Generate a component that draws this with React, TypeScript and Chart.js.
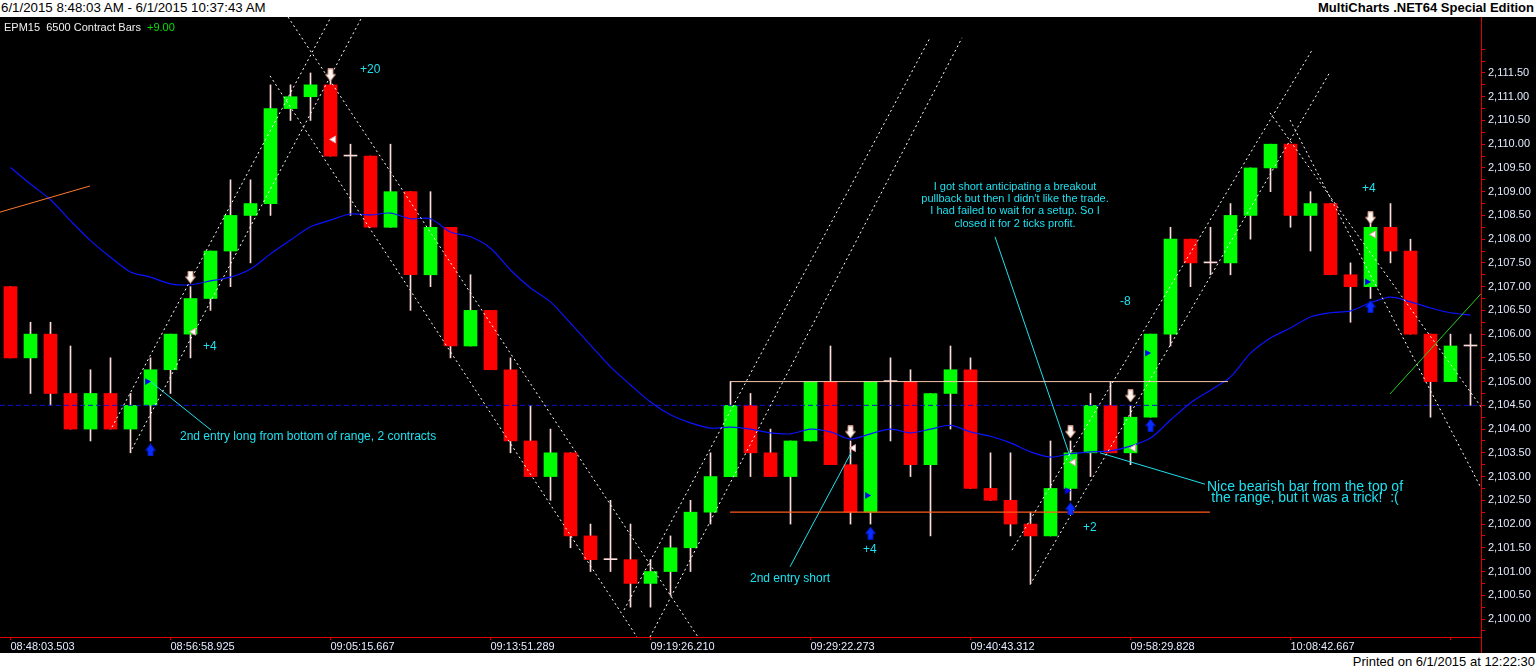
import React, { useEffect, useRef } from "react";
import { Chart, registerables } from "chart.js";
Chart.register(...registerables);

// ---- data (bar index 0..73, prices) ----
const barOpen = [2107, 2105.5, 2106, 2104.75, 2104, 2104.75, 2104, 2104.5, 2105.25, 2106, 2106.75, 2107.75, 2108.5, 2108.75, 2110.75, 2111, 2111.25, 2109.75, 2109.75, 2108.25, 2109, 2107.25, 2108.25, 2105.75, 2106.5, 2105.25, 2103.75, 2103, 2103.5, 2101.75, 2101.25, 2101.25, 2100.75, 2101, 2101.5, 2102.25, 2103, 2104.5, 2103.5, 2103, 2103.75, 2105, 2103.25, 2102.25, 2105, 2105, 2103.25, 2104.75, 2105.25, 2102.75, 2102.5, 2102, 2101.75, 2102.75, 2103.5, 2104.5, 2103.5, 2104.25, 2106, 2108, 2107.5, 2107.5, 2108.5, 2109.5, 2110, 2108.5, 2108.75, 2107.25, 2107, 2108.25, 2107.75, 2106, 2105, 2105.75];
const barHigh = [2107, 2106.25, 2106.25, 2105.75, 2105.25, 2105.5, 2104.75, 2105.5, 2106, 2107, 2107.75, 2109.25, 2109.25, 2111.25, 2111.25, 2111.5, 2111.5, 2110, 2109.75, 2110, 2109, 2109, 2108.25, 2107.25, 2106.5, 2105.5, 2104.5, 2104, 2103.5, 2102, 2102.5, 2102, 2101.25, 2101.75, 2102.5, 2103.5, 2105, 2104.75, 2104, 2103.75, 2105, 2105.75, 2103.75, 2105, 2105.5, 2105.25, 2104.75, 2105.75, 2105.5, 2103.5, 2103.5, 2102.25, 2103.75, 2103.75, 2104.75, 2105, 2104.5, 2106, 2108.25, 2108, 2108.25, 2108.75, 2109.5, 2110, 2110, 2109, 2108.75, 2107.5, 2108.5, 2108.75, 2108, 2106, 2106, 2106];
const barLow = [2105.5, 2104.75, 2104.5, 2104, 2103.75, 2104, 2103.5, 2103.75, 2104.75, 2105.5, 2106.5, 2107, 2107.5, 2108.5, 2110.5, 2110.5, 2109.75, 2108.5, 2108.25, 2108.25, 2106.5, 2107, 2105.5, 2105.75, 2105.25, 2103.5, 2103, 2102.5, 2101.5, 2101, 2101, 2100.25, 2100.25, 2100.5, 2101, 2102, 2103, 2103, 2103, 2102, 2103.75, 2103.25, 2102, 2102, 2103.75, 2103, 2101.75, 2104, 2102.75, 2102.5, 2101.75, 2100.75, 2101.75, 2102.5, 2103, 2103.5, 2103.25, 2104.25, 2105.75, 2107, 2107.25, 2107.25, 2108, 2109, 2108.25, 2107.75, 2107.25, 2106.25, 2106.75, 2107.5, 2106, 2104.25, 2105, 2104.5];
const barClose = [2105.5, 2106, 2104.75, 2104, 2104.75, 2104, 2104.5, 2105.25, 2106, 2106.75, 2107.75, 2108.5, 2108.75, 2110.75, 2111, 2111.25, 2109.75, 2109.75, 2108.25, 2109, 2107.25, 2108.25, 2105.75, 2106.5, 2105.25, 2103.75, 2103, 2103.5, 2101.75, 2101.25, 2101.25, 2100.75, 2101, 2101.5, 2102.25, 2103, 2104.5, 2103.5, 2103, 2103.75, 2105, 2103.25, 2102.25, 2105, 2105, 2103.25, 2104.75, 2105.25, 2102.75, 2102.5, 2102, 2101.75, 2102.75, 2103.5, 2104.5, 2103.5, 2104.25, 2106, 2108, 2107.5, 2107.5, 2108.5, 2109.5, 2110, 2108.5, 2108.75, 2107.25, 2107, 2108.25, 2107.75, 2106, 2105, 2105.75, 2105.75];
const movingAverage = [2109.51, 2109.16, 2108.83, 2108.39, 2107.97, 2107.62, 2107.31, 2107.2, 2107.06, 2107.04, 2107.12, 2107.2, 2107.37, 2107.69, 2107.98, 2108.26, 2108.4, 2108.53, 2108.51, 2108.55, 2108.43, 2108.43, 2108.15, 2108.05, 2107.81, 2107.35, 2106.97, 2106.68, 2106.23, 2105.77, 2105.31, 2104.93, 2104.57, 2104.3, 2104.13, 2104.02, 2104.04, 2104.0, 2103.92, 2103.9, 2104.0, 2103.94, 2103.79, 2103.9, 2104.0, 2103.92, 2104.0, 2104.08, 2103.94, 2103.85, 2103.71, 2103.52, 2103.41, 2103.48, 2103.52, 2103.54, 2103.64, 2103.81, 2104.19, 2104.55, 2104.82, 2105.1, 2105.6, 2105.92, 2106.13, 2106.36, 2106.45, 2106.49, 2106.66, 2106.78, 2106.68, 2106.55, 2106.45, 2106.4];
const timeTickLabels = ["08:48:03.503", "08:56:58.925", "09:05:15.667", "09:13:51.289", "09:19:26.210", "09:29:22.273", "09:40:43.312", "09:58:29.828", "10:08:42.667", ""];
const TICK_EVERY = 8;
const priceTickStart = 2099.75;
const priceTickEnd = 2112.0;
const priceLabelTop = 2111.5;

// segments: [barIndex1, price1, barIndex2, price2]
const trendLines = [
  [5.075, 2104.04, 16.025, 2112.68],
  [6.075, 2103.58, 17.575, 2112.68],
  [13.875, 2112.68, 34.375, 2099.62],
  [12.975, 2111.44, 31.325, 2099.62],
  [30.675, 2100.19, 45.975, 2112.24],
  [31.975, 2099.62, 47.575, 2112.24],
  [50.075, 2101.45, 65.075, 2111.98],
  [50.975, 2100.72, 65.975, 2111.52],
  [62.975, 2110.66, 73.525, 2104.47],
  [63.975, 2110.51, 73.525, 2102.76],
];
const orangeTrend = [-0.525, 2108.57, 3.975, 2109.12];
const greenTrend = [68.975, 2104.74, 73.525, 2106.85];
const rangeTop = [35.975, 2105.0, 60.875, 2105.0];
const rangeBottom = [35.975, 2102.25, 59.975, 2102.25];
const openLevel = 2104.5;
const connectors = [
  [6.975, 2105.01, 10.025, 2103.98],
  [42.025, 2103.5, 38.975, 2101.1],
  [49.225, 2108.05, 53.125, 2103.24],
  [54.475, 2103.5, 59.725, 2102.84],
];

const downArrowBars = [9, 16, 42, 53, 56, 68];
const downArrowPrices = [2107.2, 2111.46, 2103.94, 2103.94, 2104.7, 2108.45];
const upArrowBars = [7, 43, 53, 57, 68];
const upArrowPrices = [2103.56, 2101.81, 2102.32, 2104.08, 2106.58];
const entryBars = [7, 43, 53, 57, 68];
const entryPrices = [2105.0, 2102.6, 2102.7, 2105.6, 2107.1];
const exitBars = [9, 16, 42, 53, 56, 68];
const exitPrices = [2106.05, 2110.1, 2103.6, 2103.3, 2103.6, 2108.1];

const notes = [
  { text: "+20", x: 17.475, y: 2111.56, size: 12, align: "left" },
  { text: "+4", x: 9.625, y: 2105.73, size: 12, align: "left" },
  { text: "2nd entry long from bottom of range, 2 contracts", x: 8.475, y: 2103.83, size: 12, align: "left" },
  { text: "2nd entry short", x: 36.975, y: 2100.84, size: 12, align: "left" },
  { text: "+4", x: 42.625, y: 2101.47, size: 12, align: "left" },
  { text: "I got short anticipating a breakout", x: 50.225, y: 2109.1, size: 11, align: "center" },
  { text: "pullback but then I didn't like the trade.", x: 50.225, y: 2108.85, size: 11, align: "center" },
  { text: "I had failed to wait for a setup. So I", x: 50.225, y: 2108.59, size: 11, align: "center" },
  { text: "closed it for 2 ticks profit.", x: 50.225, y: 2108.32, size: 11, align: "center" },
  { text: "-8", x: 55.475, y: 2106.68, size: 12, align: "left" },
  { text: "+2", x: 53.625, y: 2101.92, size: 12, align: "left" },
  { text: "+4", x: 67.575, y: 2109.06, size: 12, align: "left" },
  { text: "Nice bearish bar from the top of", x: 64.725, y: 2102.78, size: 14, align: "center" },
  { text: "the range, but it was a trick!  :(", x: 64.725, y: 2102.55, size: 14, align: "center" },
];

const PRICE_MIN = 2099.621;
const PRICE_MAX = 2112.679;
const X_MIN = -0.525;
const X_MAX = 73.525;

const GREEN = "#00ff00";
const RED = "#ff0000";
const WICK = "#ffdcdc";
const AXIS_RED = "#e00000";
const LABEL = "#e4eaff";
const CYAN = "#1ee0f0";
const FONT = "'Liberation Sans', Arial, sans-serif";

function fmtPrice(v: number) {
  return v.toLocaleString("en-US", { minimumFractionDigits: 2, maximumFractionDigits: 2 });
}

function makeArrow(down: boolean, fill: string, stroke: string) {
  const c = document.createElement("canvas");
  c.width = 11;
  c.height = 13;
  const g = c.getContext("2d")!;
  g.fillStyle = fill;
  g.strokeStyle = stroke;
  g.lineWidth = 1;
  g.beginPath();
  if (down) {
    g.moveTo(3, 0.5); g.lineTo(8, 0.5); g.lineTo(8, 6); g.lineTo(10.5, 6); g.lineTo(5.5, 12.5); g.lineTo(0.5, 6); g.lineTo(3, 6);
  } else {
    g.moveTo(5.5, 0.5); g.lineTo(10.5, 7); g.lineTo(8, 7); g.lineTo(8, 12.5); g.lineTo(3, 12.5); g.lineTo(3, 7); g.lineTo(0.5, 7);
  }
  g.closePath();
  g.fill();
  g.stroke();
  return c;
}

const zeroPadding = (s: any) => {
  s.paddingLeft = 0;
  s.paddingRight = 0;
  s.paddingTop = 0;
  s.paddingBottom = 0;
};

export default function App() {
  const ref = useRef<HTMLCanvasElement>(null);

  useEffect(() => {
    const canvas = ref.current!;
    const idx = barOpen.map((_, i) => i);
    const seg = (s: number[], color: string, dash: number[], order: number, width = 1) => ({
      type: "line" as const,
      data: [{ x: s[0], y: s[1] }, { x: s[2], y: s[3] }],
      borderColor: color,
      borderDash: dash,
      borderWidth: width,
      pointRadius: 0,
      fill: false,
      tension: 0,
      order,
    });
    const downImg = makeArrow(true, "#fff4ee", "#c89080");
    const upImg = makeArrow(false, "#0a2cff", "#0018c0");

    const datasets: any[] = [
      ...trendLines.map((s) => seg(s, "#ffffff", [2, 3], 0)),
      seg(orangeTrend, "#ff7a30", [], 0),
      seg(greenTrend, "#20d020", [], 0),
      seg(rangeTop, "#f4c8b0", [], 0),
      seg(rangeBottom, "#ff5a1a", [], 0, 1.3),
      seg([X_MIN, openLevel, X_MAX, openLevel], "#1010d0", [5, 3], 1),
      ...connectors.map((s) => seg(s, CYAN, [], 0)),
      {
        type: "line",
        data: idx.map((i) => ({ x: i, y: movingAverage[i] })),
        borderColor: "#0a14ff",
        borderWidth: 1.2,
        pointRadius: 0,
        tension: 0.3,
        order: 1,
      },
      {
        type: "bar",
        data: idx.map((i) => ({ x: i, y: [Math.min(barOpen[i], barClose[i]), Math.max(barOpen[i], barClose[i])] })),
        backgroundColor: idx.map((i) => (barClose[i] > barOpen[i] ? GREEN : barClose[i] < barOpen[i] ? RED : WICK)),
        barThickness: 13,
        minBarLength: 1,
        grouped: false,
        order: 2,
      },
      {
        type: "bar",
        data: idx.map((i) => ({ x: i, y: [barLow[i], barHigh[i]] })),
        backgroundColor: WICK,
        barThickness: 1,
        grouped: false,
        order: 3,
      },
      {
        type: "line",
        showLine: false,
        data: downArrowBars.map((b, k) => ({ x: b, y: downArrowPrices[k] })),
        pointStyle: downImg,
        pointRadius: 6,
        order: -1,
      },
      {
        type: "line",
        showLine: false,
        data: upArrowBars.map((b, k) => ({ x: b, y: upArrowPrices[k] })),
        pointStyle: upImg,
        pointRadius: 6,
        order: -1,
      },
      {
        type: "line",
        showLine: false,
        data: entryBars.map((b, k) => ({ x: b - 0.17, y: entryPrices[k] })),
        pointStyle: "triangle",
        rotation: 90,
        pointRadius: 4,
        backgroundColor: "#0000ff",
        borderColor: "#0000ff",
        borderWidth: 0,
        order: -1,
      },
      {
        type: "line",
        showLine: false,
        data: exitBars.map((b, k) => ({ x: b + 0.15, y: exitPrices[k] })),
        pointStyle: "triangle",
        rotation: -90,
        pointRadius: 4,
        backgroundColor: "#ffffff",
        borderColor: "#e0a0a0",
        borderWidth: 1,
        order: -1,
      },
    ];

    const overlay = {
      id: "overlay",
      beforeDraw(chart: any) {
        const ctx = chart.ctx;
        ctx.save();
        ctx.fillStyle = "#000";
        ctx.fillRect(0, 0, chart.width, chart.height);
        ctx.restore();
      },
      afterDraw(chart: any) {
        const ctx = chart.ctx;
        const xs = chart.scales.x;
        const ys = chart.scales.y;
        ctx.save();
        ctx.strokeStyle = AXIS_RED;
        ctx.lineWidth = 1;
        ctx.beginPath();
        ctx.moveTo(chart.chartArea.right + 0.5, chart.chartArea.bottom);
        ctx.lineTo(chart.chartArea.right + 0.5, chart.height);
        ctx.stroke();
        ctx.textBaseline = "middle";
        ctx.textAlign = "left";
        ctx.font = `11px ${FONT}`;
        ctx.fillStyle = "#f0f0f0";
        const lbl = "EPM15  6500 Contract Bars";
        ctx.fillText(lbl, 4, 11);
        ctx.fillStyle = "#00e000";
        ctx.fillText("+9.00", 4 + ctx.measureText(lbl).width + 6, 11);
        ctx.fillStyle = CYAN;
        for (const n of notes) {
          ctx.font = `${n.size}px ${FONT}`;
          ctx.textAlign = n.align as CanvasTextAlign;
          ctx.fillText(n.text, xs.getPixelForValue(n.x), ys.getPixelForValue(n.y));
        }
        ctx.restore();
      },
    };

    const chart = new Chart(canvas, {
      type: "bar",
      data: { datasets },
      options: {
        animation: false,
        responsive: false,
        devicePixelRatio: 1,
        events: [],
        layout: { padding: 0, autoPadding: false },
        plugins: { legend: { display: false }, tooltip: { enabled: false } },
        scales: {
          x: {
            type: "linear",
            min: X_MIN,
            max: X_MAX,
            offset: false,
            afterBuildTicks: (s: any) => {
              s.ticks = timeTickLabels.map((_, k) => ({ value: k * TICK_EVERY }));
            },
            afterFit: (s: any) => {
              s.height = 16;
              zeroPadding(s);
            },
            ticks: {
              callback: (v: any) => timeTickLabels[Math.round(Number(v) / TICK_EVERY)] ?? "",
              align: "start",
              maxRotation: 0,
              minRotation: 0,
              autoSkip: false,
              color: LABEL,
              font: { family: FONT, size: 11 },
              padding: 0,
            },
            grid: { display: true, offset: false, drawOnChartArea: false, drawTicks: true, tickLength: 3, color: AXIS_RED },
            border: { display: true, color: AXIS_RED },
          },
          y: {
            type: "linear",
            position: "right",
            min: PRICE_MIN,
            max: PRICE_MAX,
            beginAtZero: false,
            afterBuildTicks: (s: any) => {
              const t: any[] = [];
              for (let v = priceTickStart; v <= priceTickEnd + 1e-9; v += 0.25) t.push({ value: v });
              s.ticks = t;
            },
            afterFit: (s: any) => {
              s.width = 55;
              zeroPadding(s);
            },
            ticks: {
              callback: (v: any) => {
                const n = Number(v);
                return Math.abs(n * 2 - Math.round(n * 2)) < 1e-6 && n <= priceLabelTop + 1e-9 ? fmtPrice(n) : "";
              },
              autoSkip: false,
              color: LABEL,
              font: { family: FONT, size: 11 },
              padding: 3,
            },
            grid: { display: true, drawOnChartArea: false, drawTicks: true, tickLength: 4, color: AXIS_RED },
            border: { display: true, color: AXIS_RED },
          },
        },
      } as any,
      plugins: [overlay],
    } as any);
    return () => chart.destroy();
  }, []);

  return (
    <div style={{ position: "absolute", left: 0, top: 0, width: 1536, height: 670, background: "#fff", overflow: "hidden", fontFamily: FONT }}>
      <div style={{ position: "absolute", left: 0, top: 0, width: 1536, height: 17, background: "#fff" }}>
        <span style={{ position: "absolute", left: 1, top: 0, fontSize: 13.3, lineHeight: "16px", color: "#000", whiteSpace: "pre" }}>
          6/1/2015 8:48:03 AM - 6/1/2015 10:37:43 AM
        </span>
        <span style={{ position: "absolute", right: 2, top: 0, fontSize: 13, lineHeight: "16px", fontWeight: "bold", color: "#000", whiteSpace: "pre" }}>
          MultiCharts .NET64 Special Edition
        </span>
      </div>
      <canvas ref={ref} width={1536} height={636} style={{ position: "absolute", left: 0, top: 17, width: 1536, height: 636, background: "#000" }} />
      <div style={{ position: "absolute", left: 0, top: 653, width: 1536, height: 17, background: "#fff" }}>
        <span style={{ position: "absolute", right: 1, top: 1, fontSize: 13, lineHeight: "16px", color: "#000", whiteSpace: "pre" }}>
          Printed on 6/1/2015 at 12:22:30
        </span>
      </div>
    </div>
  );
}
